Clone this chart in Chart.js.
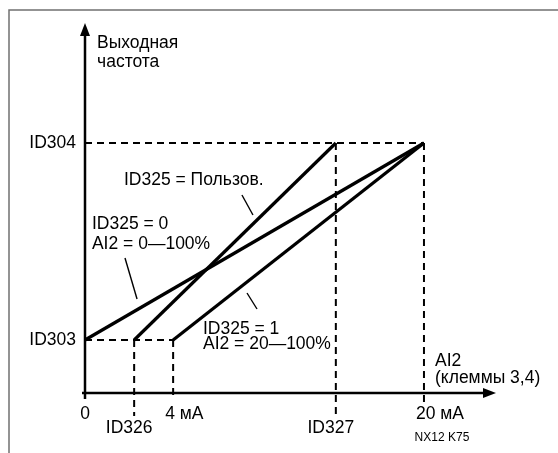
<!DOCTYPE html>
<html>
<head>
<meta charset="utf-8">
<script src="https://cdn.jsdelivr.net/npm/chart.js@4/dist/chart.umd.min.js"></script>
<style>
  body { margin: 0; background: #fff; }
  canvas { display: block; }
</style>
</head>
<body>
<canvas id="chart" width="558" height="453"></canvas>
<script>
// schema: frequenza in uscita in funzione di AI2 (non in scala)

// tacche sugli assi
const xTicks = [0, 2.9, 5.2, 14.8, 20];
const xTickLabels = ['0', 'ID326', '4 мА', 'ID327', '20 мА'];
const yTicks = [21.2, 100];
const yTickLabels = ['ID303', 'ID304'];

// rette caratteristiche
const lineZeroX = [0, 20];
const lineZeroY = [21.2, 100];
const lineUserX = [2.9, 14.8];
const lineUserY = [21.2, 100];
const lineOneX = [5.2, 20];
const lineOneY = [21.2, 100];

// linee tratteggiate di riferimento
const guideTopX = [0, 20];
const guideTopY = [100, 100];
const guideLowX = [0, 5.2];
const guideLowY = [21.2, 21.2];
const guideId326X = [2.9, 2.9];
const guideId326Y = [21.2, -9.2];
const guide4mAX = [5.2, 5.2];
const guide4mAY = [21.2, -2.4];
const guideId327X = [14.8, 14.8];
const guideId327Y = [100, -9.2];
const guide20mAX = [20, 20];
const guide20mAY = [100, -4];

// tratti di richiamo delle etichette
const leaderUserX = [9.26, 9.91];
const leaderUserY = [79.2, 71.2];
const leaderZeroX = [2.36, 3.07];
const leaderZeroY = [54, 37.6];
const leaderOneX = [9.56, 10.15];
const leaderOneY = [40, 33.6];

const toPoints = (xs, ys) => xs.map((x, i) => ({ x, y: ys[i] }));

const FONT = "'Liberation Sans', Arial, sans-serif";

const solid = (xs, ys, w) => ({
  data: toPoints(xs, ys),
  showLine: true,
  borderColor: '#000',
  borderWidth: w,
  pointRadius: 0,
  clip: false
});
const dashed = (xs, ys) => ({
  ...solid(xs, ys, 2),
  borderDash: [7, 5]
});

const diagram = {
  id: 'diagram',
  beforeDatasetsDraw(chart) {
    const { ctx } = chart;
    const x = chart.scales.x, y = chart.scales.y;
    const x0 = x.getPixelForValue(0), y0 = y.getPixelForValue(0);
    ctx.save();
    // cornice
    ctx.strokeStyle = '#707070';
    ctx.lineWidth = 1.5;
    ctx.beginPath();
    ctx.moveTo(9, 453);
    ctx.lineTo(9, 10);
    ctx.lineTo(558, 10);
    ctx.stroke();
    // assi
    ctx.strokeStyle = '#000';
    ctx.fillStyle = '#000';
    ctx.lineWidth = 2.5;
    ctx.beginPath();
    ctx.moveTo(x0, y.getPixelForValue(-2.4));
    ctx.lineTo(x0, y.top + 12);
    ctx.moveTo(x0 - 3, y0);
    ctx.lineTo(x.right - 12, y0);
    ctx.stroke();
    ctx.beginPath();
    ctx.moveTo(x0, y.top);
    ctx.lineTo(x0 - 5, y.top + 13);
    ctx.lineTo(x0 + 5, y.top + 13);
    ctx.closePath();
    ctx.fill();
    ctx.beginPath();
    ctx.moveTo(x.right, y0);
    ctx.lineTo(x.right - 13, y0 - 5);
    ctx.lineTo(x.right - 13, y0 + 5);
    ctx.closePath();
    ctx.fill();
    ctx.restore();
  },
  afterDraw(chart) {
    const { ctx } = chart;
    const x = chart.scales.x, y = chart.scales.y;
    const y0 = y.getPixelForValue(0);
    ctx.save();
    ctx.fillStyle = '#000';
    ctx.font = `17.5px ${FONT}`;
    ctx.textBaseline = 'middle';
    const put = (str, xv, yv, align) => {
      ctx.textAlign = align || 'left';
      ctx.fillText(str, x.getPixelForValue(xv), y.getPixelForValue(yv));
    };
    // etichette asse y
    ctx.textAlign = 'right';
    yTicks.forEach((v, i) => {
      ctx.fillText(yTickLabels[i], x.getPixelForValue(0) - 9, y.getPixelForValue(v));
    });
    // etichette asse x (due righe alternate)
    xTicks.forEach((v, i) => {
      const px = x.getPixelForValue(v);
      const lbl = xTickLabels[i];
      if (lbl.startsWith('ID')) {
        ctx.textAlign = 'center';
        ctx.fillText(lbl, px - 5, y0 + 35);
      } else if (v === 0) {
        ctx.textAlign = 'center';
        ctx.fillText(lbl, px, y0 + 21);
      } else {
        ctx.textAlign = 'left';
        ctx.fillText(lbl, px - 8, y0 + 21);
      }
    });
    // titoli degli assi
    put('Выходная', 0.71, 140);
    put('частота', 0.71, 132.4);
    put('AI2', 20.65, 12.8);
    put('(клеммы 3,4)', 20.65, 6);
    // didascalie delle rette
    put('ID325 = Пользов.', 2.3, 85.2);
    put('ID325 = 0', 0.41, 67.6);
    put('AI2 = 0—100%', 0.41, 59.6);
    put('ID325 = 1', 6.96, 25.6);
    put('AI2 = 20—100%', 6.96, 19.6);
    ctx.font = `12px ${FONT}`;
    ctx.textAlign = 'center';
    ctx.fillText('NX12 K75', x.getPixelForValue(20) + 18, y0 + 45);
    ctx.restore();
  }
};

const chart = new Chart(document.getElementById('chart').getContext('2d'), {
  type: 'scatter',
  data: {
    datasets: [
      dashed(guideTopX, guideTopY),
      dashed(guideLowX, guideLowY),
      dashed(guideId326X, guideId326Y),
      dashed(guide4mAX, guide4mAY),
      dashed(guideId327X, guideId327Y),
      dashed(guide20mAX, guide20mAY),
      solid(lineZeroX, lineZeroY, 3.2),
      solid(lineUserX, lineUserY, 3.2),
      solid(lineOneX, lineOneY, 3.2),
      solid(leaderUserX, leaderUserY, 1.4),
      solid(leaderZeroX, leaderZeroY, 1.4),
      solid(leaderOneX, leaderOneY, 1.4)
    ]
  },
  options: {
    responsive: false,
    animation: false,
    layout: { padding: { left: 85, right: 62, top: 23, bottom: 20 } },
    scales: {
      x: { type: 'linear', min: 0, max: 24.25, display: false },
      y: { type: 'linear', min: -16, max: 148, display: false }
    },
    plugins: {
      legend: { display: false },
      tooltip: { enabled: false }
    }
  },
  plugins: [diagram]
});
</script>
</body>
</html>
